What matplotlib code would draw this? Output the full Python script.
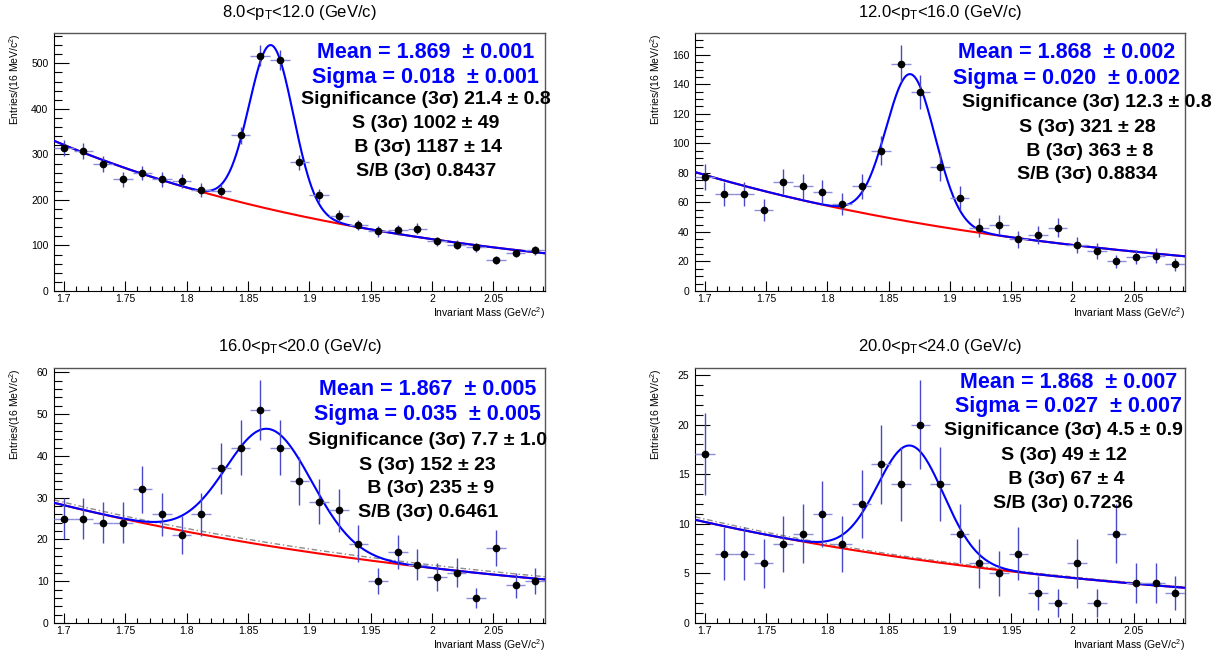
import numpy as np
import matplotlib
matplotlib.use("Agg")
import matplotlib.pyplot as plt
from matplotlib.ticker import MultipleLocator, FuncFormatter

# Fonts (Helvetica-like, as in ROOT)
plt.rcParams['font.family'] = ['Liberation Sans', 'DejaVu Sans']
plt.rcParams['mathtext.fontset'] = 'custom'
plt.rcParams['mathtext.rm'] = 'Liberation Sans'
plt.rcParams['mathtext.it'] = 'Liberation Sans:italic'

# Bin centres of the invariant mass histograms (16 MeV bins)
mass = [1.700, 1.716, 1.732, 1.748, 1.764, 1.780, 1.796, 1.812, 1.828,
        1.844, 1.860, 1.876, 1.892, 1.908, 1.924, 1.940, 1.956, 1.972,
        1.988, 2.004, 2.020, 2.036, 2.052, 2.068, 2.084]
bin_half = 0.008

# Entries per bin, one list per pT interval
counts_8_12 = [315, 308, 279, 245, 259, 245, 242, 222, 220, 342, 517, 507, 283,
               210, 165, 145, 131, 134, 137, 109, 102, 96, 68, 84, 89]
counts_12_16 = [77, 66, 66, 55, 74, 71, 67, 59, 71, 95, 154, 135, 84,
                63, 43, 45, 35, 38, 43, 31, 27, 20, 23, 24, 18]
counts_16_20 = [25, 25, 24, 24, 32, 26, 21, 26, 37, 42, 51, 42, 34,
                29, 27, 19, 10, 17, 14, 11, 12, 6, 18, 9, 10]
counts_20_24 = [17, 7, 7, 6, 8, 9, 11, 8, 12, 16, 14, 20, 14,
                9, 6, 5, 7, 3, 2, 6, 2, 9, 4, 4, 3]
all_counts = [counts_8_12, counts_12_16, counts_16_20, counts_20_24]

titles = [r'8.0<p$_{\mathregular{T}}$<12.0 (GeV/c)',
          r'12.0<p$_{\mathregular{T}}$<16.0 (GeV/c)',
          r'16.0<p$_{\mathregular{T}}$<20.0 (GeV/c)',
          r'20.0<p$_{\mathregular{T}}$<24.0 (GeV/c)']

# Fit results: gaussian signal + exponential background
fit_mean = [1.869, 1.868, 1.867, 1.868]
fit_sigma = [0.018, 0.020, 0.035, 0.027]
fit_amp = [361, 100, 28.0, 11.4]
bkg_norm = [321, 78.6, 28.2, 10.18]      # background value at m = 1.7
bkg_slope = [-3.455, -3.08, -2.54, -2.69]
# side-band background (dash-dotted, lower panels only)
ref_norm = [None, None, 28.9, 10.47]
ref_slope = [None, None, -2.445, -2.709]

# Fit summary text
blue_lines = [["Mean = 1.869  \u00b1 0.001", "Sigma = 0.018  \u00b1 0.001"],
              ["Mean = 1.868  \u00b1 0.002", "Sigma = 0.020  \u00b1 0.002"],
              ["Mean = 1.867  \u00b1 0.005", "Sigma = 0.035  \u00b1 0.005"],
              ["Mean = 1.868  \u00b1 0.007", "Sigma = 0.027  \u00b1 0.007"]]
black_lines = [["Significance (3\u03c3) 21.4 \u00b1 0.8", "S (3\u03c3) 1002 \u00b1 49",
                " B (3\u03c3) 1187 \u00b1 14", "S/B (3\u03c3) 0.8437"],
               ["Significance (3\u03c3) 12.3 \u00b1 0.8", "S (3\u03c3) 321 \u00b1 28",
                " B (3\u03c3) 363 \u00b1 8", "S/B (3\u03c3) 0.8834"],
               ["Significance (3\u03c3) 7.7 \u00b1 1.0", "S (3\u03c3) 152 \u00b1 23",
                " B (3\u03c3) 235 \u00b1 9", "S/B (3\u03c3) 0.6461"],
               ["Significance (3\u03c3) 4.5 \u00b1 0.9", "S (3\u03c3) 49 \u00b1 12",
                " B (3\u03c3) 67 \u00b1 4", "S/B (3\u03c3) 0.7236"]]

# Axis ticks
y_major = [100, 20, 10, 5]
y_minor = [20, 5, 2, 1]

# Layout (pixels: left, right, top, bottom)
W, H = 1222, 653
frames = [(54, 545, 33, 291), (695, 1185, 33, 291),
          (54, 545, 368, 623), (695, 1185, 368, 623)]
blue_x = [0.757, 0.758, 0.761, 0.763]
black_x = [0.757, 0.800, 0.761, 0.752]
text_y = [[0.076, 0.171, 0.256, 0.352, 0.443, 0.536],
          [0.076, 0.177, 0.268, 0.365, 0.458, 0.550],
          [0.084, 0.184, 0.286, 0.381, 0.474, 0.566],
          [0.055, 0.152, 0.244, 0.342, 0.436, 0.530]]

xmin, xmax = 1.692, 2.092

fig = plt.figure(figsize=(W / 100, H / 100), dpi=100)

for i in range(4):
    l, r, t, b = frames[i]
    ax = fig.add_axes([l / W, 1 - b / H, (r - l) / W, (b - t) / H])

    x = np.array(mass)
    y = np.array(all_counts[i], dtype=float)
    err = np.sqrt(y)

    # Fit curves
    xx = np.linspace(xmin, xmax, 500)
    bkg = bkg_norm[i] * np.exp(bkg_slope[i] * (xx - 1.7))
    sig = fit_amp[i] * np.exp(-0.5 * ((xx - fit_mean[i]) / fit_sigma[i]) ** 2)
    if ref_norm[i] is not None:
        ref = ref_norm[i] * np.exp(ref_slope[i] * (xx - 1.7))
        ax.plot(xx, ref, color='#8c8c8c', lw=1.0, ls=(0, (4, 2, 1, 2)), zorder=2)
    ax.plot(xx, bkg, color='#ff0000', lw=1.5, zorder=3)
    ax.plot(xx, bkg + sig, color='#0000ff', lw=1.5, zorder=4)

    # Data points: lighter horizontal bars, darker vertical bars
    ax.errorbar(x, y, xerr=bin_half, fmt='none', ecolor='#8e8ee0', elinewidth=1.0,
                capsize=0, zorder=5)
    ax.errorbar(x, y, yerr=err, fmt='o', ms=4.5, mfc='black', mec='black',
                ecolor='#4848c8', elinewidth=1.0, capsize=0, zorder=5)

    ax.set_xlim(xmin, xmax)
    ax.set_ylim(0, 1.05 * np.max(y + err))

    # ROOT-like ticks
    ax.xaxis.set_major_locator(MultipleLocator(0.05))
    ax.xaxis.set_minor_locator(MultipleLocator(0.01))
    ax.xaxis.set_major_formatter(FuncFormatter(lambda v, p: '{:g}'.format(round(v, 3))))
    ax.yaxis.set_major_locator(MultipleLocator(y_major[i]))
    ax.yaxis.set_minor_locator(MultipleLocator(y_minor[i]))
    ax.tick_params(axis='both', which='both', direction='in', top=False, right=False,
                   labelsize=7.5, colors='black', width=0.8)
    ax.tick_params(axis='y', which='major', length=10.8, pad=4)
    ax.tick_params(axis='y', which='minor', length=5.4)
    ax.tick_params(axis='x', which='major', length=6.9, pad=2)
    ax.tick_params(axis='x', which='minor', length=3.5)
    for s in ['left', 'bottom']:
        ax.spines[s].set_linewidth(0.8)
    for s in ['top', 'right']:
        ax.spines[s].set_color('#555555')
        ax.spines[s].set_linewidth(1.0)

    # Axis titles
    ax.text(1.0, -0.085, r'Invariant Mass (GeV/c$^{\mathregular{2}}$)', transform=ax.transAxes,
            ha='right', va='center', fontsize=7.5)
    fig.text((l - 38.5) / W, 1 - t / H, r'Entries/(16 MeV/c$^{\mathregular{2}}$)',
             rotation=90, ha='center', va='top', fontsize=7.5)

    # Pad title
    fig.text((l + r) / 2 / W, 1 - (t - 21) / H, titles[i], ha='center', va='center',
             fontsize=12)

    # Fit summary
    for j, s in enumerate(blue_lines[i]):
        ax.text(blue_x[i], 1 - text_y[i][j], s, transform=ax.transAxes, ha='center',
                va='center', fontsize=15.5, weight='bold', color='#0000ff', zorder=6)
    for j, s in enumerate(black_lines[i]):
        ax.text(black_x[i], 1 - text_y[i][j + 2], s, transform=ax.transAxes, ha='center',
                va='center', fontsize=14, weight='bold', color='black', zorder=6)

plt.savefig('out.png', dpi=100)
